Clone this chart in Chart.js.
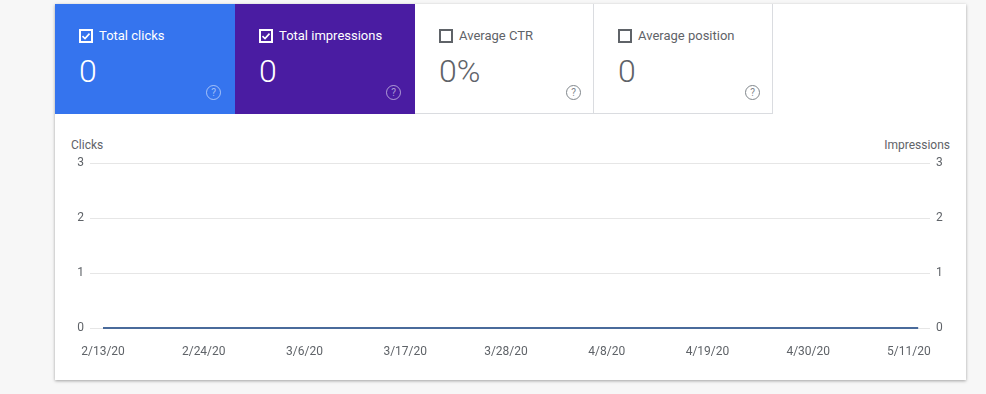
<!DOCTYPE html>
<html>
<head>
<meta charset="utf-8">
<script src="https://cdn.jsdelivr.net/npm/chart.js@4.4.1/dist/chart.umd.min.js"></script>
<style>
  html, body { margin:0; padding:0; background:#f7f7f7; width:986px; height:394px; overflow:hidden; font-family: Roboto, "Noto Sans", Arial, sans-serif; }
  #card { position:absolute; left:55px; top:4px; width:911px; height:376px; background:#fff; box-shadow:0 1px 3px rgba(0,0,0,0.35); }
  .tile { position:absolute; top:0; height:110px; width:180px; box-sizing:border-box; }
  .tile .lab { position:absolute; left:24px; top:24px; font-size:13px; line-height:16px; display:flex; align-items:center; }
  .tile .lab svg { margin-right:6px; }
  .tile .val { position:absolute; left:24px; top:47px; font-size:32px; font-weight:300; line-height:40px; }
  .tile .help { position:absolute; left:151px; top:81px; width:13px; height:13px; border:1.3px solid; border-radius:50%; font-size:10px; line-height:13px; text-align:center; font-weight:400; }
  #t1 { left:0; background:#3574ee; color:#fff; }
  #t2 { left:180px; background:#4a1ca2; color:#fff; }
  #t3 { left:360px; width:179px; background:#fff; color:#5f6368; border-right:1px solid #dadce0; border-bottom:1px solid #dadce0; }
  #t4 { left:539px; width:179px; background:#fff; color:#5f6368; border-right:1px solid #dadce0; border-bottom:1px solid #dadce0; }
  #t1 .help, #t2 .help { color:rgba(255,255,255,0.55); border-color:rgba(255,255,255,0.55); }
  #t3 .help, #t4 .help { color:#80868b; border-color:#80868b; }
  #t3 .val, #t4 .val { color:#5f6368; }
  .atitle { position:absolute; top:134px; font-size:12px; color:#5f6368; }
  #chartWrap { position:absolute; left:0; top:116px; width:911px; height:250px; }
</style>
</head>
<body>
<div id="card">
  <div class="tile" id="t1">
    <div class="lab"><svg width="14" height="14" viewBox="0 0 14 14"><rect x="1" y="1" width="12" height="12" fill="none" stroke="#fff" stroke-width="2"/><path d="M3.5 7.2 L6 9.6 L10.5 4.6" fill="none" stroke="#fff" stroke-width="1.6"/></svg><span>Total clicks</span></div>
    <div class="val">0</div>
    <div class="help">?</div>
  </div>
  <div class="tile" id="t2">
    <div class="lab"><svg width="14" height="14" viewBox="0 0 14 14"><rect x="1" y="1" width="12" height="12" fill="none" stroke="#fff" stroke-width="2"/><path d="M3.5 7.2 L6 9.6 L10.5 4.6" fill="none" stroke="#fff" stroke-width="1.6"/></svg><span>Total impressions</span></div>
    <div class="val">0</div>
    <div class="help">?</div>
  </div>
  <div class="tile" id="t3">
    <div class="lab"><svg width="14" height="14" viewBox="0 0 14 14"><rect x="1" y="1" width="12" height="12" fill="none" stroke="#5f6368" stroke-width="2"/></svg><span>Average CTR</span></div>
    <div class="val">0%</div>
    <div class="help">?</div>
  </div>
  <div class="tile" id="t4">
    <div class="lab"><svg width="14" height="14" viewBox="0 0 14 14"><rect x="1" y="1" width="12" height="12" fill="none" stroke="#5f6368" stroke-width="2"/></svg><span>Average position</span></div>
    <div class="val">0</div>
    <div class="help">?</div>
  </div>
  <div class="atitle" style="left:16px;">Clicks</div>
  <div class="atitle" style="right:16px;">Impressions</div>
  <div id="chartWrap"><canvas id="c"></canvas></div>
</div>
<script>
// ---- data ----
const startDate = "2020-02-13";
// daily values 2/13/20 .. 5/12/20 (90 days), all zero
const clicks = [0,0,0,0,0,0,0,0,0,0,0,0,0,0,0,0,0,0,0,0,0,0,0,0,0,0,0,0,0,0,0,0,0,0,0,0,0,0,0,0,0,0,0,0,0,0,0,0,0,0,0,0,0,0,0,0,0,0,0,0,0,0,0,0,0,0,0,0,0,0,0,0,0,0,0,0,0,0,0,0,0,0,0,0,0,0,0,0,0,0];
const impressions = [0,0,0,0,0,0,0,0,0,0,0,0,0,0,0,0,0,0,0,0,0,0,0,0,0,0,0,0,0,0,0,0,0,0,0,0,0,0,0,0,0,0,0,0,0,0,0,0,0,0,0,0,0,0,0,0,0,0,0,0,0,0,0,0,0,0,0,0,0,0,0,0,0,0,0,0,0,0,0,0,0,0,0,0,0,0,0,0,0,0];
const tickDays = [0, 11, 22, 33, 44, 55, 66, 77, 88];
const tickLabels = ["2/13/20","2/24/20","3/6/20","3/17/20","3/28/20","4/8/20","4/19/20","4/30/20","5/11/20"];
const yTicks = [0, 1, 2, 3];

const tickFont = { family: "Roboto, 'Noto Sans', sans-serif", size: 12 };
const tickColor = "#5f6368";

new Chart(document.getElementById('c'), {
  type: 'line',
  data: {
    datasets: [
      { label: 'Clicks', data: clicks.map((v,i)=>({x:i,y:v})), yAxisID:'y', borderColor:'#4a6b9b', borderWidth:2, pointRadius:0, tension:0, clip:false },
      { label: 'Impressions', data: impressions.map((v,i)=>({x:i,y:v})), yAxisID:'y1', borderColor:'#4a6b9b', borderWidth:2, pointRadius:0, tension:0, clip:false }
    ]
  },
  options: {
    responsive: true,
    maintainAspectRatio: false,
    animation: false,
    layout: { padding: { top: 43, left: 0, right: 0, bottom: 0 } },
    plugins: { legend: { display:false }, tooltip: { enabled:false } },
    scales: {
      x: {
        type: 'linear', min: -1.42, max: 90.3,
        grid: { display:false }, border: { display:false },
        afterBuildTicks: s => { s.ticks = tickDays.map(v => ({ value: v })); },
        afterFit: s => { s.height = 42; },
        ticks: { autoSkip:false, maxRotation:0, padding: 9, font: tickFont, color: tickColor,
          callback: (v) => { const k = tickDays.indexOf(v); return k >= 0 ? tickLabels[k] : ''; } }
      },
      y: {
        position:'left', min:0, max:3,
        afterBuildTicks: s => { s.ticks = yTicks.map(v => ({ value: v })); },
        afterFit: s => { s.width = 35; },
        grid: { color:'#e6e6e6', drawTicks:false, lineWidth:1 }, border: { display:false },
        ticks: { padding: 6, font: tickFont, color: tickColor }
      },
      y1: {
        position:'right', min:0, max:3,
        afterBuildTicks: s => { s.ticks = yTicks.map(v => ({ value: v })); },
        afterFit: s => { s.width = 36; },
        grid: { display:false, drawTicks:false }, border: { display:false },
        ticks: { padding: 6, font: tickFont, color: tickColor }
      }
    }
  }
});
</script>
</body>
</html>
